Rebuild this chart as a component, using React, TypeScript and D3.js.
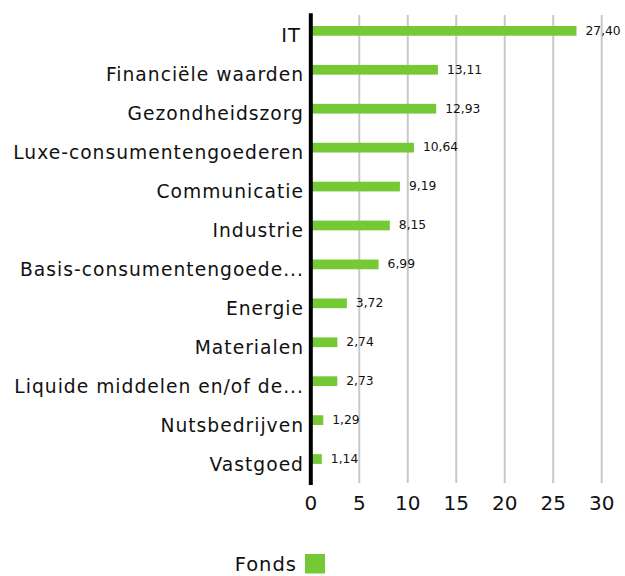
import React from "react";
import * as d3 from "d3";

const categories = [
  "IT",
  "Financiële waarden",
  "Gezondheidszorg",
  "Luxe-consumentengoederen",
  "Communicatie",
  "Industrie",
  "Basis-consumentengoede...",
  "Energie",
  "Materialen",
  "Liquide middelen en/of de...",
  "Nutsbedrijven",
  "Vastgoed",
];
const values = [27.4, 13.11, 12.93, 10.64, 9.19, 8.15, 6.99, 3.72, 2.74, 2.73, 1.29, 1.14];
const ticks = [0, 5, 10, 15, 20, 25, 30];
const seriesName = "Fonds";

const W = 625;
const H = 576;
const GREEN = "#74c935";
const FONT = "'DejaVu Sans', sans-serif";

export default function App() {
  const x = d3.scaleLinear().domain([0, 30]).range([310.8, 601.7]);
  const y = d3.scaleBand<string>().domain(categories).range([11.4, 478.5]).paddingInner(0.75).paddingOuter(0.375);
  const fmt = (v: number) => v.toFixed(2).replace(".", ",");
  return (
    <svg width={W} height={H} style={{ position: "absolute", left: 0, top: 0, display: "block" }} fontFamily={FONT}>
      <rect width={W} height={H} fill="#fff" />
      {ticks.filter((t) => t > 0).map((t) => (
        <line key={t} x1={x(t)} x2={x(t)} y1={15} y2={483} stroke="#c8c8c8" strokeWidth={2} />
      ))}
      {categories.map((c, i) => {
        const yc = (y(c) as number) + y.bandwidth() / 2;
        return (
          <g key={c}>
            <rect x={x(0)} y={y(c)} width={x(values[i]) - x(0)} height={y.bandwidth()} fill={GREEN} />
            <text x={i === 0 ? 301 : 304} y={yc + 11.6} textAnchor="end" fontSize={i === 0 ? 19.5 : 18.7} letterSpacing={1} fill="#111">{c}</text>
            <text x={x(values[i]) + 9} y={yc + 3.8} fontSize={12.3} fill="#111">{fmt(values[i])}</text>
          </g>
        );
      })}
      <line x1={x(0)} x2={x(0)} y1={13.3} y2={485} stroke="#000" strokeWidth={4} />
      {ticks.map((t) => (
        <text key={t} x={x(t)} y={509.5} textAnchor="middle" fontSize={20} fill="#111">{t}</text>
      ))}
      <text x={297} y={571} textAnchor="end" fontSize={19.5} letterSpacing={1} fill="#111">{seriesName}</text>
      <rect x={305} y={554} width={20} height={19.5} fill={GREEN} />
    </svg>
  );
}
